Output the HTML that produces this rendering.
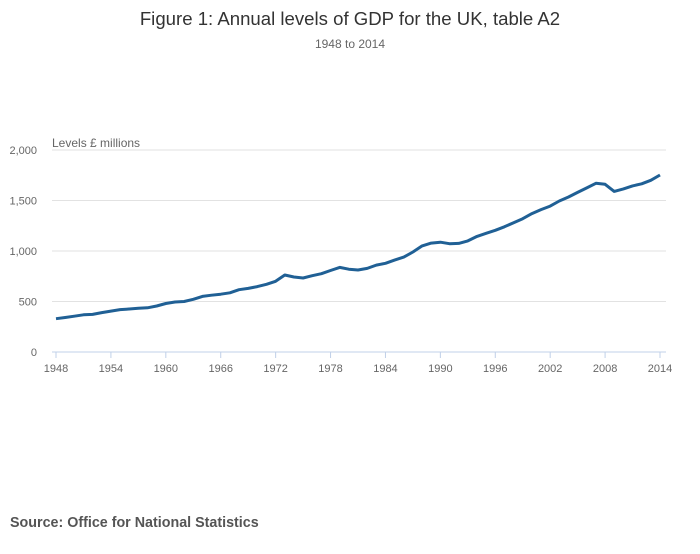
<!DOCTYPE html>
<html><head><meta charset="utf-8"><style>
body{margin:0;background:#fff;font-family:"Liberation Sans","DejaVu Sans",sans-serif;}
svg text{font-family:"Liberation Sans","DejaVu Sans",sans-serif;}
</style></head><body>
<svg width="700" height="549" xmlns="http://www.w3.org/2000/svg">
<text x="350" y="25" text-anchor="middle" font-size="18.6" fill="#333">Figure 1: Annual levels of GDP for the UK, table A2</text>
<text x="350" y="48" text-anchor="middle" font-size="12" fill="#666">1948 to 2014</text>
<text x="52" y="147" font-size="12" fill="#666">Levels £ millions</text>
<g id="grid"></g><g id="xaxis"></g>
<path id="line" fill="none" stroke="#206095" stroke-width="3" stroke-linejoin="round"/>
<text x="10" y="527" font-size="14.3" font-weight="bold" fill="#555">Source: Office for National Statistics</text>
</svg>
<script>
const years=[];for(let y=1948;y<=2014;y++)years.push(y);
const gdp=[330,342,354,368,372,390,405,420,426,433,438,455,480,495,500,522,550,562,572,586,617,630,648,670,700,762,743,733,755,775,807,838,820,812,828,860,878,910,940,990,1050,1078,1087,1072,1075,1100,1145,1175,1205,1240,1280,1320,1370,1410,1445,1495,1535,1580,1625,1670,1660,1590,1615,1645,1665,1700,1752];
const yTicks=[0,500,1000,1500,2000];
const yTickLabels=["0","500","1,000","1,500","2,000"];
const xTicks=[1948,1954,1960,1966,1972,1978,1984,1990,1996,2002,2008,2014];
const NS="http://www.w3.org/2000/svg";
const x0=56,x1=660,y0=352,y1=150;
const xs=v=>x0+(v-1948)/(2014-1948)*(x1-x0);
const ys=v=>y0-v/2000*(y0-y1);
const grid=document.getElementById('grid'),xa=document.getElementById('xaxis');
yTicks.forEach((t,i)=>{
 if(t>0){const l=document.createElementNS(NS,'line');
 l.setAttribute('x1',52);l.setAttribute('x2',666);l.setAttribute('y1',ys(t));l.setAttribute('y2',ys(t));
 l.setAttribute('stroke','#e2e2e2');l.setAttribute('stroke-width',1);
 
 
 grid.appendChild(l);}
 const tx=document.createElementNS(NS,'text');
 tx.setAttribute('x',37);tx.setAttribute('y',ys(t)+4);tx.setAttribute('text-anchor','end');
 tx.setAttribute('font-size',11);tx.setAttribute('fill','#666');tx.textContent=yTickLabels[i];
 
 
 grid.appendChild(tx);
});
const ax=document.createElementNS(NS,'line');
ax.setAttribute('x1',52);ax.setAttribute('x2',666);ax.setAttribute('y1',y0);ax.setAttribute('y2',y0);
ax.setAttribute('stroke','#c0d0e8');


xa.appendChild(ax);
xTicks.forEach(t=>{
 const l=document.createElementNS(NS,'line');
 l.setAttribute('x1',xs(t));l.setAttribute('x2',xs(t));l.setAttribute('y1',y0);l.setAttribute('y2',y0+6);
 l.setAttribute('stroke','#c0d0e8');
 
 
 xa.appendChild(l);
 const tx=document.createElementNS(NS,'text');
 tx.setAttribute('x',xs(t));tx.setAttribute('y',372);tx.setAttribute('text-anchor','middle');
 tx.setAttribute('font-size',11);tx.setAttribute('fill','#666');tx.textContent=t;
 
 
 xa.appendChild(tx);
});
document.getElementById('line').setAttribute('d',gdp.map((v,i)=>(i?'L':'M')+xs(years[i]).toFixed(1)+','+ys(v).toFixed(1)).join(''));
</script>
</body></html>
